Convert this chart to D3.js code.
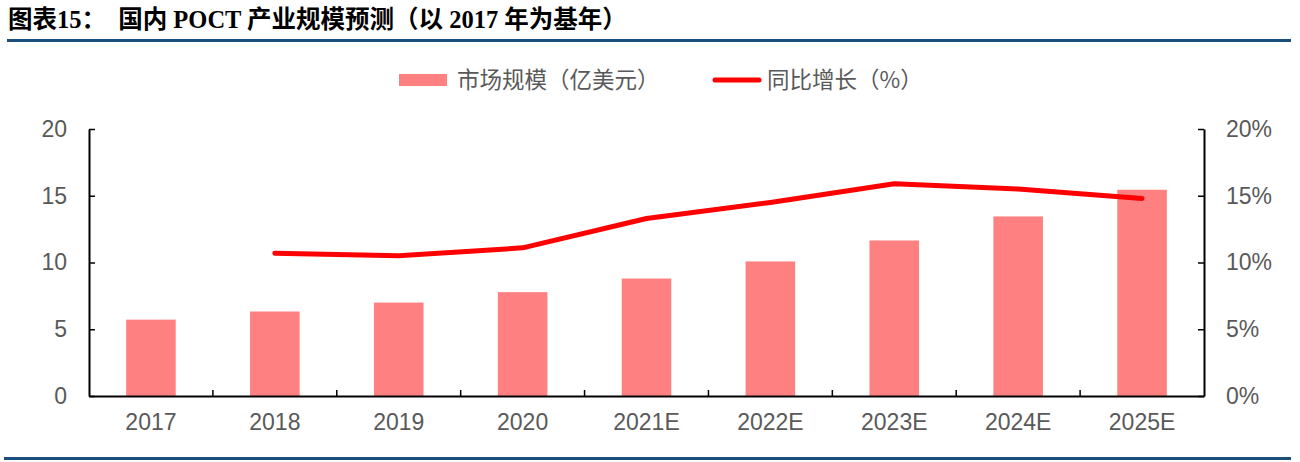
<!DOCTYPE html>
<html lang="zh">
<head>
<meta charset="UTF-8">
<title>国内 POCT 产业规模预测</title>
<script src="https://d3js.org/d3.v7.min.js"></script>
<style>
    body { margin: 0; background: #fff; }
    .tick text { font-family: Arial, "Liberation Sans", sans-serif; font-size: 23px; fill: #595959; }
    .legend-text { font-family: "Noto Sans CJK SC", sans-serif; font-size: 22.5px; fill: #595959; }
</style>
</head>
<body>
<div id="chart"></div>
<script>
// categories and series
const years = ["2017", "2018", "2019", "2020", "2021E", "2022E", "2023E", "2024E", "2025E"];
const marketSize = [5.72, 6.33, 7.0, 7.78, 8.8, 10.08, 11.65, 13.45, 15.45];
const growth = [null, 10.7, 10.5, 11.1, 13.3, 14.5, 15.9, 15.5, 14.8];
const leftTicks = [0, 5, 10, 15, 20];
const rightTicks = [0, 5, 10, 15, 20];

const W = 1300, H = 462;
const margin = { top: 129, right: 96, bottom: 66, left: 89 };
const width = W - margin.left - margin.right;
const height = H - margin.top - margin.bottom;

const svg = d3.select("#chart").append("svg")
    .attr("width", W).attr("height", H);

// title
svg.append("text")
    .attr("x", 8).attr("y", 28)
    .style("font-family", "'Liberation Serif', 'Noto Sans CJK SC', serif")
    .style("font-weight", "bold")
    .style("font-size", "24.5px")
    .attr("fill", "#000")
    .attr("xml:space", "preserve")
    .text("图表15：  国内 POCT 产业规模预测（以 2017 年为基年）");

svg.append("rect").attr("x", 7).attr("y", 39).attr("width", 1284).attr("height", 3).attr("fill", "#1a4e7c");
svg.append("rect").attr("x", 4).attr("y", 457).attr("width", 1287).attr("height", 3).attr("fill", "#1a4e7c");

const g = svg.append("g").attr("transform", `translate(${margin.left},${margin.top})`);

const x = d3.scaleBand().domain(years).range([0, width]);
const yL = d3.scaleLinear().domain([0, 20]).range([height, 0]);
const yR = d3.scaleLinear().domain([0, 20]).range([height, 0]);

// bars
const barW = x.bandwidth() * 0.4;
g.selectAll(".bar").data(years).enter().append("rect")
    .attr("class", "bar")
    .attr("x", d => x(d) + (x.bandwidth() - barW) / 2)
    .attr("width", barW)
    .attr("y", (d, i) => yL(marketSize[i]))
    .attr("height", (d, i) => height - yL(marketSize[i]))
    .attr("fill", "#ff8080");

// line
const line = d3.line()
    .defined(d => d.v != null)
    .x(d => x(d.year) + x.bandwidth() / 2)
    .y(d => yR(d.v));
g.append("path")
    .datum(years.map((y, i) => ({ year: y, v: growth[i] })))
    .attr("d", line)
    .attr("fill", "none")
    .attr("stroke", "#ff0000")
    .attr("stroke-width", 5)
    .attr("stroke-linecap", "round")
    .attr("stroke-linejoin", "round");

// left axis
const axL = g.append("g")
    .call(d3.axisLeft(yL).tickValues(leftTicks).tickSizeInner(-6).tickSizeOuter(0).tickPadding(22));
// right axis
const axR = g.append("g")
    .attr("transform", `translate(${width},0)`)
    .call(d3.axisRight(yR).tickValues(rightTicks).tickSizeInner(-6).tickSizeOuter(0).tickPadding(22)
        .tickFormat(d => d + "%"));
// bottom axis
const axB = g.append("g")
    .attr("transform", `translate(0,${height})`)
    .call(d3.axisBottom(x).tickSize(0).tickPadding(18));

// category separator ticks on x axis
axB.selectAll(".sep").data(years.slice(1)).enter().append("line")
    .attr("x1", d => x(d)).attr("x2", d => x(d))
    .attr("y1", 0).attr("y2", -6)
    .attr("stroke", "#000").attr("stroke-width", 1.5);

[axL, axR, axB].forEach(a => {
    a.select(".domain").attr("stroke", "#000").attr("stroke-width", 2);
    a.selectAll(".tick line").attr("stroke", "#000").attr("stroke-width", 1.5);
});

// legend
const leg = svg.append("g");
leg.append("rect").attr("x", 399).attr("y", 74).attr("width", 48).attr("height", 12).attr("fill", "#ff8080");
leg.append("text").attr("class", "legend-text").attr("x", 457).attr("y", 88).text("市场规模（亿美元）");
leg.append("line").attr("x1", 715).attr("x2", 759).attr("y1", 80).attr("y2", 80)
    .attr("stroke", "#ff0000").attr("stroke-width", 5).attr("stroke-linecap", "round");
leg.append("text").attr("class", "legend-text").attr("x", 767).attr("y", 88).text("同比增长（%）");
</script>
</body>
</html>
